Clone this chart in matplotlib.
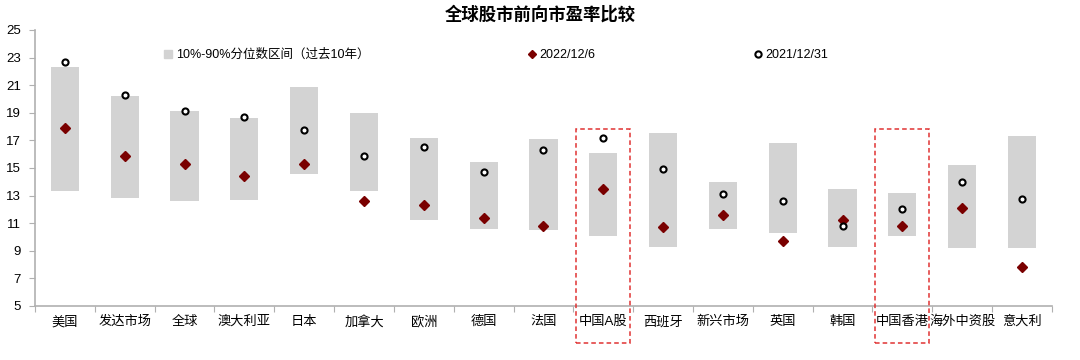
import matplotlib
matplotlib.use("Agg")
import matplotlib.pyplot as plt
from matplotlib.patches import Rectangle
from matplotlib.lines import Line2D
import numpy as np

plt.rcParams['font.family'] = ['Liberation Sans', 'Noto Sans CJK SC', 'DejaVu Sans']

# ---- data ----
markets = ['美国', '发达市场', '全球', '澳大利亚', '日本', '加拿大', '欧洲', '德国', '法国',
           '中国A股', '西班牙', '新兴市场', '英国', '韩国', '中国香港', '海外中资股', '意大利']
p90 = [22.3, 20.2, 19.1, 18.6, 20.9, 19.0, 17.2, 15.4, 17.1,
       16.1, 17.5, 14.0, 16.8, 13.5, 13.2, 15.2, 17.3]
p10 = [13.3, 12.8, 12.6, 12.7, 14.6, 13.3, 11.2, 10.6, 10.5,
       10.1, 9.3, 10.55, 10.3, 9.3, 10.1, 9.2, 9.2]
pe_2022 = [17.9, 15.9, 15.3, 14.4, 15.3, 12.6, 12.3, 11.4, 10.8,
           13.5, 10.7, 11.6, 9.7, 11.2, 10.8, 12.1, 7.8]
pe_2021 = [22.7, 20.3, 19.15, 18.7, 17.75, 15.85, 16.55, 14.7, 16.3,
           17.2, 14.9, 13.1, 12.6, 10.8, 12.0, 13.95, 12.75]
highlight = ['中国A股', '中国香港']

bar_color = '#d3d3d3'
dia_color = '#7a0000'

fig = plt.figure(figsize=(10.8, 3.6), dpi=100)
ax = fig.add_axes([0.0324, 0.15, 0.9416, 0.7667])

x = np.arange(len(markets))
lo = np.array(p10)
hi = np.array(p90)
ax.bar(x, hi - lo, bottom=lo, width=0.47, color=bar_color, zorder=1)
ax.plot(x, pe_2022, linestyle='none', marker='D', ms=5.2, color=dia_color, zorder=3)
ax.plot(x, pe_2021, linestyle='none', marker='o', ms=4.4, mfc='white', mec='black',
        mew=1.5, zorder=3)

# dashed boxes around the Chinese markets
for name in highlight:
    i = markets.index(name)
    rect = Rectangle((i - 0.45, 2.3), 0.9, 15.5, fill=False, edgecolor='#e03333',
                     linestyle=(0, (3, 2)), linewidth=1.1, clip_on=False, zorder=4)
    ax.add_patch(rect)

ax.set_xlim(-0.5, len(markets) - 0.5)
ax.set_ylim(5, 25)
ax.set_yticks(np.arange(5, 26, 2))
ax.set_xticks(np.arange(-0.5, len(markets), 1.0))
ax.set_xticklabels([])
ax.set_xticks(x, minor=True)
ax.set_xticklabels(markets, minor=True)
ax.tick_params(axis='x', which='major', length=4, color='#b0b0b0', direction='out')
ax.tick_params(axis='x', which='minor', length=0, pad=7, labelsize=9.5)
ax.tick_params(axis='y', length=4, color='#b0b0b0', labelsize=9.5, pad=6)

for s in ['top', 'right']:
    ax.spines[s].set_visible(False)
for s in ['left', 'bottom']:
    ax.spines[s].set_color('#b0b0b0')
    ax.spines[s].set_linewidth(1.2)

handles = [
    Line2D([], [], linestyle='none', marker='s', ms=6, color=bar_color),
    Line2D([], [], linestyle='none', marker='D', ms=4.5, color=dia_color),
    Line2D([], [], linestyle='none', marker='o', ms=4.5, mfc='white', mec='black', mew=1.5),
]
labels = ['10%-90%分位数区间（过去10年）', '2022/12/6', '2021/12/31']
fig.legend(handles, labels, loc='center left', bbox_to_anchor=(0.1525, 0.847), ncol=3,
           frameon=False, fontsize=9, handlelength=0.6, handletextpad=0.3,
           columnspacing=12.7, borderpad=0, borderaxespad=0)

fig.suptitle('全球股市前向市盈率比较', x=0.5, y=0.985, fontsize=12.5, fontweight='bold',
             va='top')

fig.savefig('out.png', dpi=100)
